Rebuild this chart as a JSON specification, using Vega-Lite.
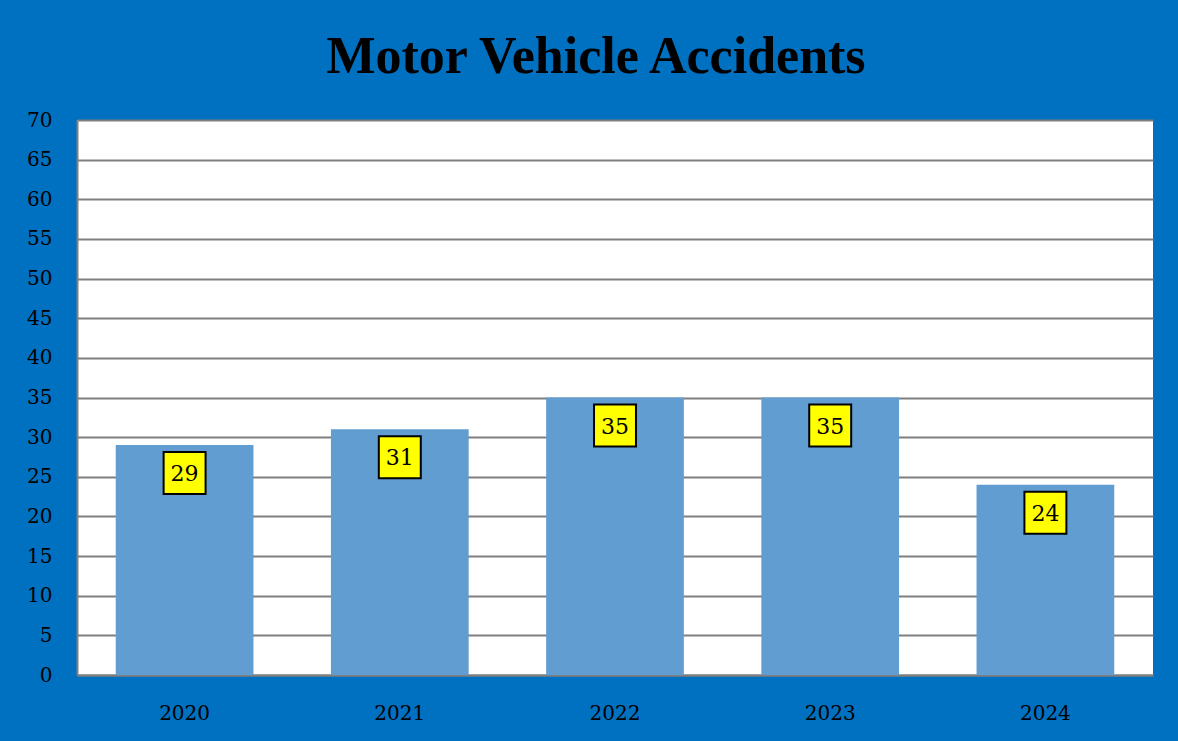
{
  "$schema": "https://vega.github.io/schema/vega-lite/v6.json",
  "width": 1076,
  "height": 555,
  "autosize": {"type": "none"},
  "padding": {"left": 77, "top": 120, "right": 25, "bottom": 66},
  "background": "#0070C0",
  "title": {
    "text": "Motor Vehicle Accidents",
    "font": "Liberation Serif",
    "fontSize": 52,
    "fontWeight": "bold",
    "color": "#000000",
    "anchor": "middle",
    "dx": -19,
    "offset": 26
  },
  "config": {
    "view": {"stroke": null, "fill": "#FFFFFF"},
    "axis": {
      "labelFont": "DejaVu Serif",
      "labelFontSize": 20,
      "labelColor": "#000000",
      "ticks": false,
      "title": null,
      "domainColor": "#7F7F7F",
      "domainWidth": 2,
      "gridColor": "#7F7F7F",
      "gridWidth": 2
    }
  },
  "data": {
    "values": [
      {"year": "2020", "accidents": 29},
      {"year": "2021", "accidents": 31},
      {"year": "2022", "accidents": 35},
      {"year": "2023", "accidents": 35},
      {"year": "2024", "accidents": 24}
    ]
  },
  "encoding": {
    "x": {
      "field": "year",
      "type": "ordinal",
      "scale": {"paddingInner": 0.36, "paddingOuter": 0.18},
      "axis": {"labelAngle": 0, "labelPadding": 28, "grid": false}
    },
    "y": {
      "field": "accidents",
      "type": "quantitative",
      "scale": {"domain": [0, 70], "nice": false},
      "axis": {
        "values": [0, 5, 10, 15, 20, 25, 30, 35, 40, 45, 50, 55, 60, 65, 70],
        "grid": true,
        "labelPadding": 25
      }
    }
  },
  "layer": [
    {"mark": {"type": "bar", "color": "#629DD1"}},
    {
      "mark": {
        "type": "point",
        "shape": "square",
        "filled": true,
        "fill": "#FFFF00",
        "stroke": "#000000",
        "strokeWidth": 2,
        "opacity": 1,
        "size": 1760,
        "yOffset": 28
      }
    },
    {
      "mark": {
        "type": "text",
        "font": "DejaVu Serif",
        "fontSize": 22,
        "color": "#000000",
        "baseline": "middle",
        "align": "center",
        "yOffset": 29
      },
      "encoding": {"text": {"field": "accidents", "type": "quantitative"}}
    }
  ]
}
